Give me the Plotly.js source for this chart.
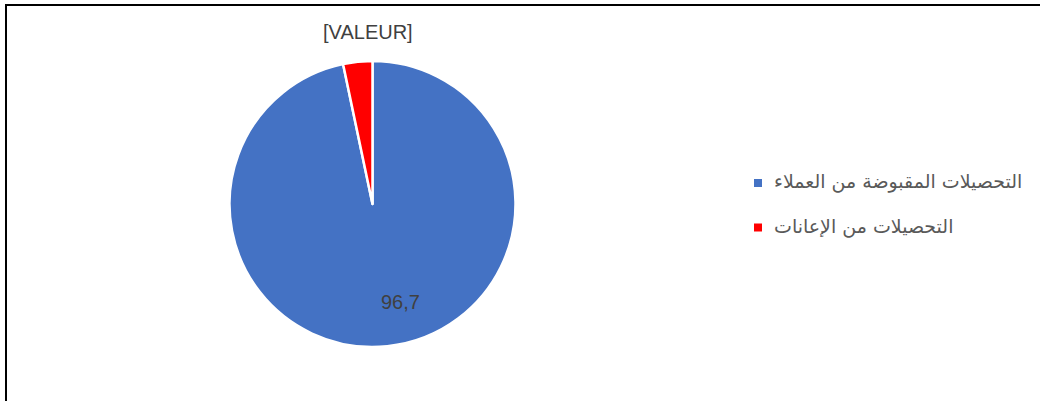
<!DOCTYPE html>
<html>
<head>
<meta charset="utf-8">
<script src="https://cdn.plot.ly/plotly-3.0.1.min.js"></script>
<style>html,body{margin:0;padding:0;background:#fff;}#chart{width:1040px;height:401px;}</style>
</head>
<body>
<div id="chart"></div>
<script>
const labels = ["التحصيلات المقبوضة من العملاء", "التحصيلات من الإعانات"];
const values = [96.7, 3.3];
const colors = ["#4472C4", "#FF0000"];
// data label text per slice (null = show the value itself)
const dataLabels = [null, "[VALEUR]"];

const W = 1040, H = 401;
const px = v => v / W, py = v => 1 - v / H;

// pie geometry (pixels)
const cx = 372.5, cy = 204, R = 143;

const trace = {
  type: "pie",
  labels: labels,
  values: values,
  sort: false,
  direction: "clockwise",
  rotation: 0,
  marker: {colors: colors, line: {color: "#FFFFFF", width: 2.5}},
  textinfo: "none",
  hoverinfo: "label+value",
  showlegend: false,
  domain: {x: [px(cx - R), px(cx + R)], y: [py(cy + R), py(cy - R)]}
};

const annotations = [];
const shapes = [];

// data labels placed along each slice's bisector (computed from the values)
const labelStyle = [{r: 0.713, dAng: -10.2}, {r: 1.203, dAng: 4.5}];
const total = values.reduce((a, b) => a + b, 0);
let cum = 0;
values.forEach((v, i) => {
  const mid = (cum + v / 2) / total * 360;
  cum += v;
  const ang = (mid + labelStyle[i].dAng) * Math.PI / 180;
  const lx = cx + Math.sin(ang) * R * labelStyle[i].r;
  const ly = cy - Math.cos(ang) * R * labelStyle[i].r;
  const txt = dataLabels[i] !== null ? dataLabels[i] : v.toFixed(1).replace(".", ",");
  annotations.push({
    xref: "paper", yref: "paper", x: px(lx), y: py(ly),
    xanchor: "center", yanchor: "middle", showarrow: false, text: txt,
    font: {family: "Liberation Sans, Arial, sans-serif", size: 20, color: "#404040"}
  });
});

// legend built from labels/colors
const legendY = [183, 227.5];
labels.forEach((lab, i) => {
  annotations.push({
    xref: "paper", yref: "paper",
    x: px(772), y: py(legendY[i] - 1.5),
    xanchor: "left", yanchor: "middle",
    text: lab, showarrow: false,
    font: {family: "DejaVu Sans, Liberation Sans, sans-serif", size: 19, color: "#595959"}
  });
  shapes.push({
    type: "rect", xref: "paper", yref: "paper",
    x0: px(754), x1: px(762), y0: py(legendY[i] - 4), y1: py(legendY[i] + 4),
    fillcolor: colors[i], line: {width: 0}
  });
});
// chart frame (left and top edges visible)
shapes.push({type: "line", xref: "paper", yref: "paper", x0: px(6), x1: px(6), y0: py(4), y1: 0, line: {color: "#000", width: 2}});
shapes.push({type: "line", xref: "paper", yref: "paper", x0: px(5), x1: 1, y0: py(5), y1: py(5), line: {color: "#000", width: 2}});

const layout = {
  width: W, height: H,
  margin: {l: 0, r: 0, t: 0, b: 0},
  paper_bgcolor: "#FFFFFF",
  showlegend: false,
  annotations: annotations,
  shapes: shapes
};

Plotly.newPlot("chart", [trace], layout, {displayModeBar: false, staticPlot: true});
</script>
</body>
</html>
